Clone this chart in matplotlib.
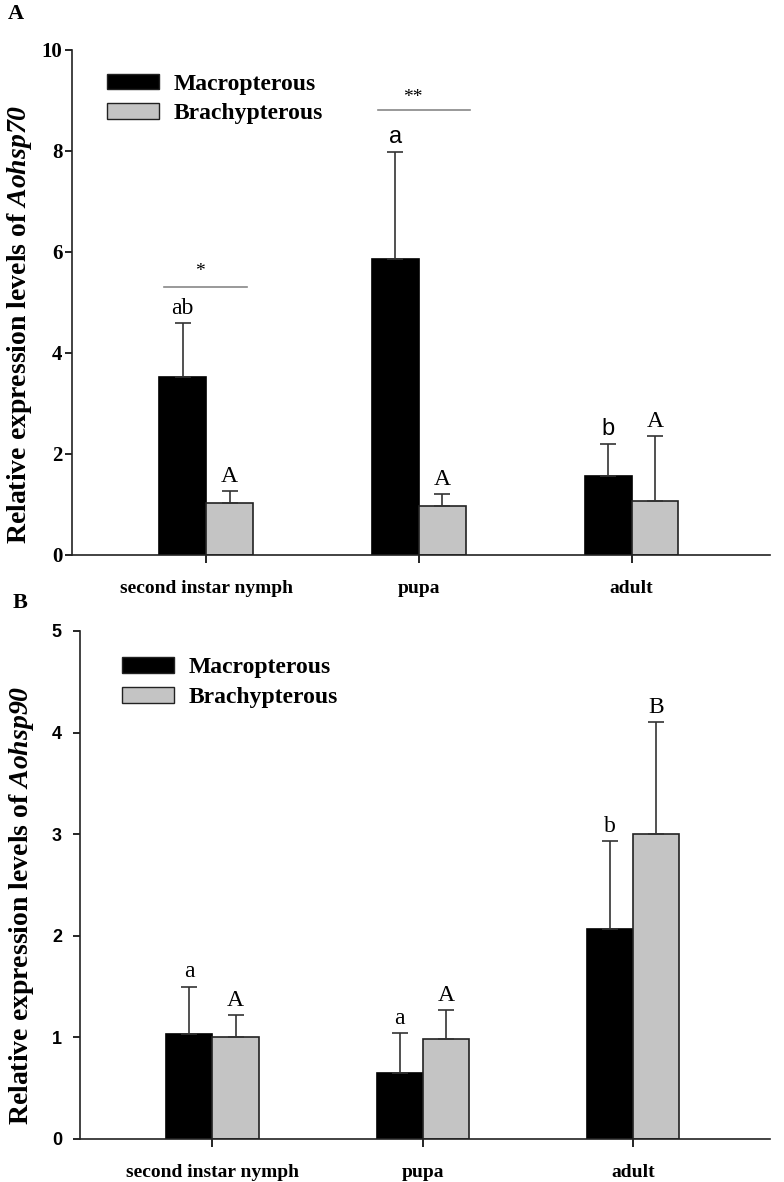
import numpy as np
import matplotlib
matplotlib.use("Agg")
import matplotlib.pyplot as plt
from matplotlib.patches import Patch

plt.rcParams['font.family'] = ['Liberation Serif', 'DejaVu Serif']
plt.rcParams['mathtext.fontset'] = 'custom'
plt.rcParams['mathtext.bfit'] = 'Liberation Serif:italic:bold'
plt.rcParams['mathtext.rm'] = 'Liberation Serif:bold'

stages = ["second instar nymph", "pupa", "adult"]
groups = ["Macropterous", "Brachypterous"]

# panel A, Aohsp70
hsp70_mac = [3.52, 5.86, 1.56]
hsp70_mac_err = [1.07, 2.12, 0.64]
hsp70_bra = [1.03, 0.97, 1.07]
hsp70_bra_err = [0.24, 0.24, 1.29]
hsp70_mac_letters = ["ab", "a", "b"]
hsp70_bra_letters = ["A", "A", "A"]

# panel B, Aohsp90
hsp90_mac = [1.03, 0.65, 2.07]
hsp90_mac_err = [0.47, 0.39, 0.86]
hsp90_bra = [1.0, 0.98, 3.0]
hsp90_bra_err = [0.22, 0.29, 1.1]
hsp90_mac_letters = ["a", "a", "b"]
hsp90_bra_letters = ["A", "A", "B"]

black = "#000000"
grey = "#c4c4c4"
width = 0.22


def draw_panel(ax, mac, mac_err, bra, bra_err, mac_lab, bra_lab, ymax, gene,
               sans_letters=()):
    x = np.arange(len(stages))
    ax.bar(x - width / 2, mac, width, color=black, edgecolor=black, linewidth=1.2)
    ax.bar(x + width / 2, bra, width, color=grey, edgecolor="#222222", linewidth=1.2)
    ax.errorbar(x - width / 2, mac, yerr=[np.zeros(3), mac_err], fmt="none",
                ecolor="#333333", elinewidth=1.2, capsize=6, capthick=1.2)
    ax.errorbar(x + width / 2, bra, yerr=[np.zeros(3), bra_err], fmt="none",
                ecolor="#333333", elinewidth=1.2, capsize=6, capthick=1.2)
    for i in range(3):
        fam = "Liberation Sans" if mac_lab[i] in sans_letters else "Liberation Serif"
        ax.annotate(mac_lab[i], (x[i] - width / 2, mac[i] + mac_err[i]),
                    xytext=(0, 3), textcoords="offset points", ha="center",
                    va="bottom", fontsize=17, family=fam)
        ax.annotate(bra_lab[i], (x[i] + width / 2, bra[i] + bra_err[i]),
                    xytext=(0, 3), textcoords="offset points", ha="center",
                    va="bottom", fontsize=17)

    ax.set_xlim(-0.63, 2.65)
    ax.set_ylim(0, ymax)
    ax.set_xticks(x)
    ax.set_xticklabels(stages, fontsize=14, fontweight="bold")
    ax.tick_params(axis="x", length=6, width=1.2, pad=12, direction="out")
    ax.tick_params(axis="y", length=5, width=1.2, direction="out")
    for s in ["top", "right"]:
        ax.spines[s].set_visible(False)
    for s in ["left", "bottom"]:
        ax.spines[s].set_linewidth(1.2)
        ax.spines[s].set_color("#222222")
    ax.set_ylabel("Relative expression levels of $\\mathbfit{" + gene + "}$",
                  fontsize=20, fontweight="bold")


fig = plt.figure(figsize=(7.84, 11.82), dpi=100)
axA = fig.add_axes([0.092, 0.5305, 0.890, 0.4272])
axB = fig.add_axes([0.102, 0.0364, 0.880, 0.4298])

draw_panel(axA, hsp70_mac, hsp70_mac_err, hsp70_bra, hsp70_bra_err,
           hsp70_mac_letters, hsp70_bra_letters, 10, "Aohsp70",
           sans_letters=("a", "b"))
axA.set_yticks([0, 2, 4, 6, 8, 10])
axA.tick_params(axis="y", pad=2)
for lab in axA.get_yticklabels():
    lab.set_family("Liberation Serif")
    lab.set_fontweight("bold")
    lab.set_fontsize(15)
axA.yaxis.set_label_coords(-0.055, 0.457)

draw_panel(axB, hsp90_mac, hsp90_mac_err, hsp90_bra, hsp90_bra_err,
           hsp90_mac_letters, hsp90_bra_letters, 5, "Aohsp90")
axB.set_yticks([0, 1, 2, 3, 4, 5])
axB.tick_params(axis="y", pad=8)
for lab in axB.get_yticklabels():
    lab.set_family("Liberation Sans")
    lab.set_fontweight("bold")
    lab.set_fontsize(13)
axB.yaxis.set_label_coords(-0.064, 0.46)

# significance bars in panel A
axA.plot([-0.20, 0.19], [5.31, 5.31], color="#888888", lw=1.2)
axA.text(-0.03, 5.62, "*", ha="center", va="center", fontsize=14)
axA.plot([0.81, 1.24], [8.81, 8.81], color="#888888", lw=1.2)
axA.text(0.97, 9.05, "**", ha="center", va="center", fontsize=14)

handles = [Patch(facecolor=black, edgecolor="#222222", linewidth=1.0),
           Patch(facecolor=grey, edgecolor="#222222", linewidth=1.0)]
for ax, anchor in [(axA, (0.05, 0.953)), (axB, (0.061, 0.948))]:
    ax.legend(handles, groups, loc="upper left", bbox_to_anchor=anchor,
              frameon=False, borderaxespad=0, borderpad=0,
              handlelength=2.2, handleheight=0.64, handletextpad=0.6,
              labelspacing=0.36, prop={"family": "Liberation Serif",
                                       "weight": "bold", "size": 17})

fig.text(0.010, 0.988, "A", fontsize=16, fontweight="bold", va="center")
fig.text(0.016, 0.490, "B", fontsize=16, fontweight="bold", va="center")

fig.savefig("out.png", dpi=100)
